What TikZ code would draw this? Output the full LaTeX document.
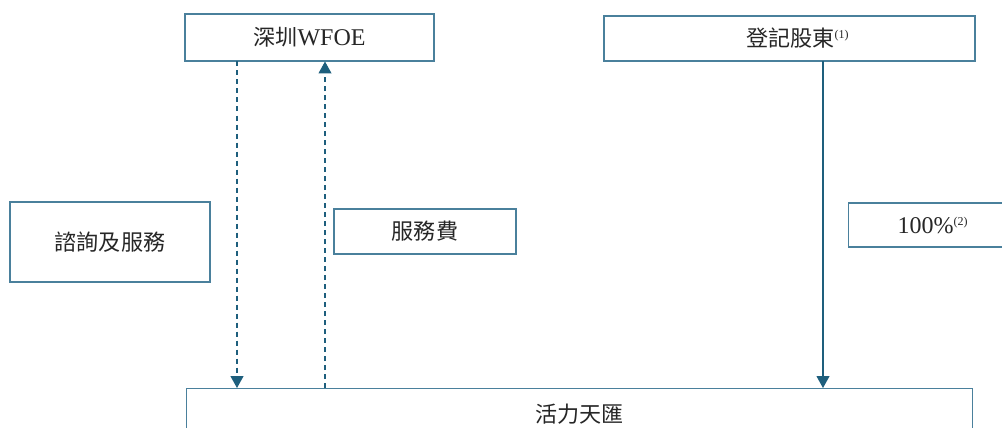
\documentclass[tikz,border=0pt]{standalone}
\usepackage{fontspec}
\setmainfont{Liberation Serif}
\newfontfamily\cjk{Noto Sans CJK TC}[Scale=0.92]
\usetikzlibrary{arrows.meta}
\definecolor{boxline}{RGB}{74,128,156}
\definecolor{arrowc}{RGB}{30,95,125}
\begin{document}
\begin{tikzpicture}[x=1pt,y=-1pt,
  entity/.style={draw=boxline,line width=1.3pt,inner sep=0pt,font=\fontsize{24}{28}\selectfont,text=black!85},
  flow/.style={draw=arrowc,line width=1.1pt,-{Triangle[length=12pt,width=13pt]}},
  dflow/.style={flow,dash pattern=on 5pt off 4pt}]
\useasboundingbox (0,0) rectangle (1002,428);
\node[entity,minimum width=249pt,minimum height=47pt] (wfoe) at (309.5,37.5) {\cjk 深圳\textrm{WFOE}};
\node[entity,minimum width=371pt,minimum height=45pt] (reg) at (789.5,38.5) {\hspace*{16pt}\cjk 登記股東\textrm{\fontsize{12}{13}\selectfont\raisebox{8pt}{(1)}}};
\node[entity,minimum width=200pt,minimum height=80pt] (svc) at (110,242) {\cjk 諮詢及服務};
\node[entity,minimum width=182pt,minimum height=45pt] (fee) at (425,231.5) {\cjk 服務費};
\node[entity,minimum width=200pt,minimum height=44pt,anchor=west] (pct) at (848,225) {\hspace*{34pt}100\%\raisebox{8pt}{\fontsize{12}{13}\selectfont(2)}\hspace*{66pt}};
\node[entity,minimum width=786pt,minimum height=70pt,anchor=north west,align=center] (vie) at (186,388) {\raisebox{20pt}{\cjk 活力天匯}};
\coordinate (a1) at (237,61.5);
\coordinate (a2) at (237,388);
\coordinate (b1) at (325,388);
\coordinate (b2) at (325,61.5);
\coordinate (c1) at (823,61);
\coordinate (c2) at (823,388);
\draw[dflow] (a1) -- (a2);
\draw[dflow] (b1) -- (b2);
\draw[flow] (c1) -- (c2);
\end{tikzpicture}
\end{document}
